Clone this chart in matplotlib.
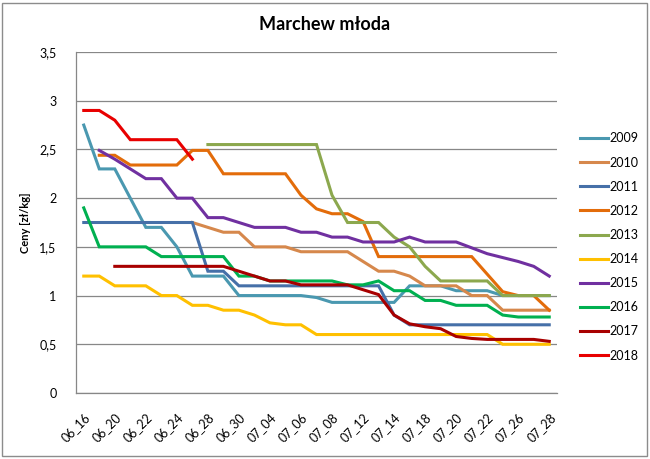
import numpy as np
import matplotlib
matplotlib.use('Agg')
import matplotlib.pyplot as plt
from matplotlib.patches import Rectangle

plt.rcParams['font.family'] = ['Lato', 'DejaVu Sans']

# daty notowań (co druga etykieta widoczna na osi)
dates = ['06_16', '06_18', '06_20', '06_21', '06_22', '06_23', '06_24', '06_27',
         '06_28', '06_29', '06_30', '07_03', '07_04', '07_05', '07_06', '07_07',
         '07_08', '07_11', '07_12', '07_13', '07_14', '07_17', '07_18', '07_19',
         '07_20', '07_21', '07_22', '07_25', '07_26', '07_27', '07_28']

N = None
y2009 = [2.75, 2.3, 2.3, 2.0, 1.7, 1.7, 1.5, 1.2, 1.2, 1.2, 1.0, 1.0, 1.0, 1.0, 1.0, 0.98,
         0.93, 0.93, 0.93, 0.93, 0.93, 1.1, 1.1, 1.1, 1.05, 1.05, 1.05, 1.0, 1.0, 1.0, 1.0]
y2010 = [N, N, N, N, N, N, N, 1.75, 1.7, 1.65, 1.65, 1.5, 1.5, 1.5, 1.45, 1.45,
         1.45, 1.45, 1.35, 1.25, 1.25, 1.2, 1.1, 1.1, 1.1, 1.0, 1.0, 0.85, 0.85, 0.85, 0.85]
y2011 = [1.75, 1.75, 1.75, 1.75, 1.75, 1.75, 1.75, 1.75, 1.25, 1.25, 1.1, 1.1, 1.1, 1.1, 1.1, 1.1,
         1.1, 1.1, 1.1, 1.1, 0.8, 0.7, 0.7, 0.7, 0.7, 0.7, 0.7, 0.7, 0.7, 0.7, 0.7]
y2012 = [N, 2.44, 2.44, 2.34, 2.34, 2.34, 2.34, 2.49, 2.49, 2.25, 2.25, 2.25, 2.25, 2.25, 2.03, 1.89,
         1.84, 1.84, 1.76, 1.4, 1.4, 1.4, 1.4, 1.4, 1.4, 1.4, 1.22, 1.04, 1.0, 1.0, 0.85]
y2013 = [N, N, N, N, N, N, N, N, 2.55, 2.55, 2.55, 2.55, 2.55, 2.55, 2.55, 2.55,
         2.03, 1.75, 1.75, 1.75, 1.6, 1.5, 1.3, 1.15, 1.15, 1.15, 1.15, 1.0, 1.0, 1.0, 1.0]
y2014 = [1.2, 1.2, 1.1, 1.1, 1.1, 1.0, 1.0, 0.9, 0.9, 0.85, 0.85, 0.8, 0.72, 0.7, 0.7, 0.6,
         0.6, 0.6, 0.6, 0.6, 0.6, 0.6, 0.6, 0.6, 0.6, 0.6, 0.6, 0.5, 0.5, 0.5, 0.5]
y2015 = [N, 2.49, 2.4, 2.3, 2.2, 2.2, 2.0, 2.0, 1.8, 1.8, 1.75, 1.7, 1.7, 1.7, 1.65, 1.65,
         1.6, 1.6, 1.55, 1.55, 1.55, 1.6, 1.55, 1.55, 1.55, 1.49, 1.43, 1.39, 1.35, 1.3, 1.2]
y2016 = [1.9, 1.5, 1.5, 1.5, 1.5, 1.4, 1.4, 1.4, 1.4, 1.4, 1.2, 1.2, 1.15, 1.15, 1.15, 1.15,
         1.15, 1.11, 1.11, 1.15, 1.05, 1.05, 0.95, 0.95, 0.9, 0.9, 0.9, 0.8, 0.78, 0.78, 0.78]
y2017 = [N, N, 1.3, 1.3, 1.3, 1.3, 1.3, 1.3, 1.3, 1.3, 1.25, 1.2, 1.15, 1.15, 1.11, 1.11,
         1.11, 1.11, 1.06, 1.01, 0.8, 0.71, 0.68, 0.66, 0.58, 0.56, 0.55, 0.55, 0.55, 0.55, 0.53]
y2018 = [2.9, 2.9, 2.8, 2.6, 2.6, 2.6, 2.6, 2.4] + [N] * 23

years = ['2009', '2010', '2011', '2012', '2013', '2014', '2015', '2016', '2017', '2018']
series = [y2009, y2010, y2011, y2012, y2013, y2014, y2015, y2016, y2017, y2018]
colors = ['#4A98B0', '#D6884C', '#4670A8', '#E36C0A', '#8CA84E', '#FFC000',
          '#7030A0', '#00B050', '#A80000', '#E80000']

fig = plt.figure(figsize=(6.5, 4.59), dpi=100)
ax = fig.add_axes([76 / 650, 1 - 393 / 459, 481 / 650, 341 / 459])

x = np.arange(len(dates))
for yr, vals, c in zip(years, series, colors):
    v = np.array([np.nan if a is None else a for a in vals], dtype=float)
    ax.plot(x, v, color=c, lw=2.2, label=yr, solid_joinstyle='miter')

ax.set_xlim(-0.5, len(dates) - 0.5)
ax.set_ylim(0, 3.5)
yt = np.arange(0, 3.51, 0.5)
ax.set_yticks(yt)
ax.set_yticklabels([('%g' % t).replace('.', ',') for t in yt], fontsize=9)
ax.set_xticks(x[::2])
ax.set_xticklabels(dates[::2], rotation=45, ha='right', va='top',
                   rotation_mode='anchor', fontsize=9)
ax.tick_params(axis='both', length=0)
ax.tick_params(axis='y', pad=14)
ax.tick_params(axis='x', pad=13)
ax.grid(axis='y', color='#878787', lw=0.9)
ax.set_axisbelow(True)
for s in ['top', 'right']:
    ax.spines[s].set_visible(False)
for s in ['left', 'bottom']:
    ax.spines[s].set_color('#878787')
    ax.spines[s].set_linewidth(0.9)

ax.set_ylabel('Ceny [zł/kg]', fontsize=8, fontweight='bold', labelpad=6)
fig.text(0.5, 1 - 25 / 459, 'Marchew młoda', ha='center', va='center',
         fontsize=13, fontweight='bold')

fig.legend(loc='center left', bbox_to_anchor=(569 / 650, 1 - 247 / 459),
           frameon=False, fontsize=9, handlelength=2.2, handletextpad=0.1,
           labelspacing=0.97)

fig.add_artist(Rectangle((2 / 650, 3 / 459), 645 / 650, 453 / 459,
                         transform=fig.transFigure, fill=False,
                         edgecolor='#8C8C8C', lw=1))

fig.savefig('out.png', dpi=100)
